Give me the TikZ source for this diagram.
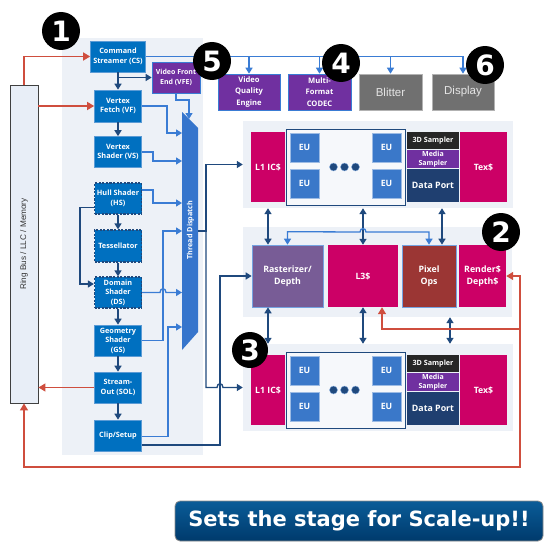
\documentclass[tikz,border=0pt]{standalone}
\usepackage{fontspec}
\usepackage{graphicx}
\setmainfont{Open Sans}
\newfontfamily\arialf{Liberation Sans}
\newfontfamily\capf{DejaVu Sans}
\usetikzlibrary{arrows.meta,calc}

\definecolor{cblue}{RGB}{0,112,192}
\definecolor{cblueb}{RGB}{91,155,213}
\definecolor{cnavy}{RGB}{31,73,125}
\definecolor{clb}{RGB}{58,124,212}
\definecolor{cpurp}{RGB}{112,48,160}
\definecolor{cgray}{RGB}{112,112,112}
\definecolor{cmag}{RGB}{204,0,102}
\definecolor{craster}{RGB}{120,92,150}
\definecolor{cpix}{RGB}{155,54,52}
\definecolor{cdport}{RGB}{31,63,112}
\definecolor{cthree}{RGB}{38,38,38}
\definecolor{ceu}{RGB}{58,120,201}
\definecolor{cpanel}{RGB}{237,241,247}
\definecolor{cring}{RGB}{232,238,247}
\definecolor{cred}{RGB}{207,78,62}
\definecolor{ctd}{RGB}{54,117,204}
\definecolor{ctop}{RGB}{10,92,152}
\definecolor{cbot}{RGB}{0,58,108}

\tikzset{
  bx/.style={inner sep=0pt, align=center, text=white},
  panel/.style={fill=cpanel, draw=none, inner sep=0pt},
  stage/.style={bx, fill=cblue, draw=cblueb, line width=0.6pt, minimum width=47pt, minimum height=31pt, font=\bfseries\fontsize{7.3}{9.5}\selectfont},
  dstage/.style={stage, draw=cnavy, line width=1.3pt, dash pattern=on 2.2pt off 1.4pt},
  pbox/.style={bx, fill=cpurp, draw=clb, line width=0.6pt, font=\bfseries\fontsize{7.6}{11.5}\selectfont},
  gbox/.style={bx, fill=cgray, draw=black!30, line width=0.6pt, minimum width=63pt, minimum height=36pt, text=black!10, font=\arialf\fontsize{11.5}{13}\selectfont},
  mag/.style={bx, fill=cmag, font=\bfseries\fontsize{8.7}{11}\selectfont},
  euc/.style={fill=white!50!cpanel, draw=cnavy, line width=0.8pt, inner sep=0pt},
  eubox/.style={bx, fill=ceu, draw=ceu!50!white, line width=0.6pt, minimum width=29pt, minimum height=29pt, font=\bfseries\fontsize{8.7}{10}\selectfont},
  dotn/.style={circle, fill=cnavy, draw=ceu!60!white, line width=0.4pt, minimum size=8pt, inner sep=0pt},
  smp/.style={bx, minimum width=52pt, font=\bfseries\fontsize{7.2}{8.5}\selectfont},
  badge/.style={circle, fill=black, minimum size=38pt, inner sep=0pt, text=white, font=\capf\bfseries\fontsize{28}{28}\selectfont},
  navl/.style={draw=cnavy, line width=1.4pt},
  navarr/.style={navl, -{Triangle[length=6pt,width=7pt]}},
  navdbl/.style={navl, {Triangle[length=6pt,width=7pt]}-{Triangle[length=6pt,width=7pt]}},
  lbline/.style={draw=clb, line width=1.3pt},
  lbarr/.style={lbline, -{Triangle[length=6pt,width=7pt]}},
  lbdbl/.style={lbline, {Triangle[length=6pt,width=7pt]}-{Triangle[length=6pt,width=7pt]}},
  redl/.style={draw=cred, line width=1.3pt},
  redarr/.style={redl, -{Triangle[length=7pt,width=8pt]}},
  reddbl/.style={redl, {Triangle[length=7pt,width=8pt]}-{Triangle[length=7pt,width=8pt]}},
}

\newcommand\mkslice[2]{%
\begin{scope}[shift={(0,#2)}]
  \node[panel, minimum width=270pt, minimum height=87pt] (#1-bg) at (378,164.5) {};
  \node[mag, minimum width=34pt, minimum height=70pt] (#1-l1) at (268,167) {L1 IC\$};
  \node[euc, minimum width=119pt, minimum height=76pt] (#1-euc) at (345.5,167) {};
  \node[eubox] (#1-eua) at (304.5,147.5) {EU};
  \node[eubox] (#1-eub) at (304.5,183.5) {EU};
  \node[eubox] (#1-euc1) at (386.5,147.5) {EU};
  \node[eubox] (#1-eud) at (386.5,183.5) {EU};
  \node[dotn] (#1-d1) at (333.5,167) {};
  \node[dotn] (#1-d2) at (344.5,167) {};
  \node[dotn] (#1-d3) at (355.5,167) {};
  \node[smp, fill=cthree, minimum height=17pt] (#1-3d) at (433,140.5) {3D Sampler};
  \node[smp, fill=cpurp, minimum height=18pt, font=\bfseries\fontsize{7}{8.5}\selectfont] (#1-ms) at (433,159) {Media\\Sampler};
  \node[smp, fill=cdport, minimum height=33pt, font=\bfseries\fontsize{8.8}{10}\selectfont] (#1-dp) at (433,185.5) {Data Port};
  \node[mag, minimum width=47pt, minimum height=70pt] (#1-tex) at (483.5,167) {Tex\$};
\end{scope}}

\begin{document}
\begin{tikzpicture}[x=1pt,y=-1pt]
\useasboundingbox (0,0) rectangle (554,551);
\fill[white] (0,0) rectangle (554,551);

% ---------- panels ----------
\node[panel, minimum width=141pt, minimum height=417pt] (lpanel) at (132.5,246.5) {};
\mkslice{s1}{0}
\node[panel, minimum width=269pt, minimum height=90pt] (s2-bg) at (377.5,272) {};
\mkslice{s3}{223}

% ---------- ring bus ----------
\node[draw=black!75, fill=cring, line width=0.8pt, minimum width=28pt, minimum height=318pt, inner sep=0pt] (ring) at (24,244)
  {\rotatebox{90}{\color{black!80}\arialf\fontsize{8.2}{8}\selectfont Ring Bus / LLC / Memory}};

% ---------- pipeline stages ----------
\node[stage, minimum width=55pt] (cs) at (118,56.5) {Command\\Streamer (CS)};
\node[pbox, minimum width=48pt, minimum height=31pt, font=\bfseries\fontsize{7}{9.5}\selectfont] (vfe) at (176,77.5) {Video Front\\End (VFE)};
\node[stage, minimum height=32pt] (vf) at (118,106) {Vertex\\Fetch (VF)};
\node[stage] (vs) at (118,152) {Vertex\\Shader (VS)};
\node[dstage] (hs) at (118,198.5) {Hull Shader\\(HS)};
\node[dstage, minimum height=32pt] (tess) at (118,246) {Tessellator};
\node[dstage] (ds) at (118,292.5) {Domain\\Shader\\(DS)};
\node[stage] (gs) at (118,340.5) {Geometry\\Shader\\(GS)};
\node[stage] (sol) at (118,387.5) {Stream-\\Out (SOL)};
\node[stage] (clip) at (118,435.5) {Clip/Setup};

% ---------- thread dispatch ----------
\fill[ctd] (182,112) -- (198,128) -- (198,332) -- (182,350) -- cycle;
\node[text=white, font=\bfseries\fontsize{7.2}{8}\selectfont, inner sep=0pt] (td) at (190.5,230) {\rotatebox{90}{Thread Dispatch}};
\coordinate (td-vfe) at (189,119);
\coordinate (td-vf) at (182,133);
\coordinate (td-vs) at (182,161);
\coordinate (td-hs) at (182,203);
\coordinate (td-gs) at (182,231);
\coordinate (td-ds) at (182,292.5);
\coordinate (td-clip) at (182,327);
\coordinate (td-out) at (198,231);

% ---------- top row ----------
\node[pbox, minimum width=62pt, minimum height=36pt] (vqe) at (249,92) {Video\\Quality\\Engine};
\node[pbox, minimum width=63pt, minimum height=36pt] (mfx) at (319.5,92) {Multi-\\Format\\CODEC};
\node[gbox] (blit) at (390.5,92) {Blitter};
\node[gbox, minimum width=62pt] (disp) at (463,92) {Display};

% ---------- slice common ----------
\node[bx, fill=craster, draw=clb!70!white, line width=0.6pt, minimum width=71pt, minimum height=62pt, font=\bfseries\fontsize{8.8}{12}\selectfont] (rast) at (287.5,276) {Rasterizer/\\Depth};
\node[mag, minimum width=70pt, minimum height=62pt] (l3) at (363,276) {L3\$};
\node[bx, fill=cpix, draw=clb!70!white, line width=0.6pt, minimum width=54pt, minimum height=62pt, font=\bfseries\fontsize{8.8}{12}\selectfont] (pix) at (429,276) {Pixel\\Ops};
\node[mag, minimum width=47pt, minimum height=62pt, font=\bfseries\fontsize{8.8}{12}\selectfont] (rend) at (482.5,276) {Render\$\\Depth\$};

% ---------- connectors: front end ----------
\draw[navarr] (cs.south) -- (vf.north);
\draw[navarr] (cs.south |- vfe.west) -- (vfe.west);
\draw[navarr] (vf.south) -- (vs.north);
\draw[navarr] (hs.south) -- (tess.north);
\draw[navarr] (tess.south) -- (ds.north);
\draw[navarr] (ds.south) -- (gs.north);
\draw[navarr] (gs.south) -- (sol.north);
\draw[navarr] (sol.south) -- (clip.north);
\draw[navarr] ($(hs.west)+(0,9)$) -- (80,207.5) -- (80,284) -- ($(ds.west)+(0,-8.5)$);

% top media row
\draw[lbarr] (cs.east) -| (disp.north);
\draw[lbarr] (vqe.north |- cs.east) -- (vqe.north);
\draw[lbarr] (mfx.north |- cs.east) -- (mfx.north);
\draw[lbarr] (blit.north |- cs.east) -- (blit.north);

% into thread dispatch
\draw[lbarr] (vfe.south) -- (176,100) -- (189,100) -- (td-vfe);
\draw[lbarr] (vf.east) -- (167,106) -- (167,133) -- (td-vf);
\draw[lbarr] (vs.east) -| (153,161) -- (td-vs);
\draw[lbarr] ($(hs.east)+(0,-8.5)$) -| (153,203) -- (td-hs);
\draw[lbarr] (gs.east) -| (163,231) -- (td-gs);
\draw[lbarr] (ds.east) -- (160,292.5) .. controls (160,287.5) and (166,287.5) .. (166,292.5) -- (td-ds);
\draw[lbarr] ($(clip.east)+(0,1)$) -| (168,327) -- (td-clip);

% thread dispatch to slices
\draw[navarr] (td-out) -| (206,164.5) -- (s1-bg.west);
\draw[navarr] (td-out) -| (206,387.5) -- (217,387.5) .. controls (217,382.5) and (223,382.5) .. (223,387.5) -- (s3-bg.west);
\draw[navarr] ($(clip.east)+(0,9.5)$) -| (220,276) -- (rast.west);

% slice to slice
\coordinate (dpa) at ($(s1-dp.south)+(9,0)$);
\coordinate (pxa) at ($(pix.south)+(21,0)$);
\draw[navdbl] (s1-l1.south |- s1-bg.south) -- (s1-l1.south |- rast.north);
\draw[navdbl] (l3.north |- s1-bg.south) -- (l3.north);
\draw[navdbl] (dpa |- s1-bg.south) -- (dpa |- pix.north);
\draw[lbdbl] (rast.north) -- ++(0,-13) -- (360,232) .. controls (360,227.5) and (366,227.5) .. (366,232) -| (pix.north);
\draw[navdbl] (s3-l1.north |- rast.south) -- (s3-l1.north |- s3-bg.north);
\draw[navdbl] (l3.south) -- (l3.south |- s3-bg.north);
\draw[navdbl] (pxa |- s2-bg.south) -- (pxa |- s3-bg.north);

% red memory paths
\draw[redarr] (ring.north) |- (cs.west);
\draw[redarr] (ring.east |- vf.west) -- (vf.west);
\draw[redarr] (sol.west) -- (ring.east |- sol.west);
\draw[reddbl] (rend.east) -- (520,276) -- (520,467) -| (ring.south);
\draw[redarr] (520,329) -| ($(l3.south)+(19,0)$);

% ---------- badges ----------
\node[badge] (b1) at (61,31) {1};
\node[badge] (b5) at (212,61) {5};
\node[badge] (b4) at (341,63) {4};
\node[badge] (b6) at (485,65) {6};
\node[badge] (b2) at (501,232) {2};
\node[badge, minimum size=36pt] (b3) at (250,350) {3};

% ---------- caption ----------
\node[rounded corners=5pt, minimum width=368pt, minimum height=40pt, top color=ctop, bottom color=cbot, draw=black!45, line width=0.8pt, text=white, font=\capf\bfseries\fontsize{21}{24}\selectfont, inner sep=0pt] (cap) at (359,521) {Sets the stage for Scale-up!!};
\end{tikzpicture}
\end{document}
